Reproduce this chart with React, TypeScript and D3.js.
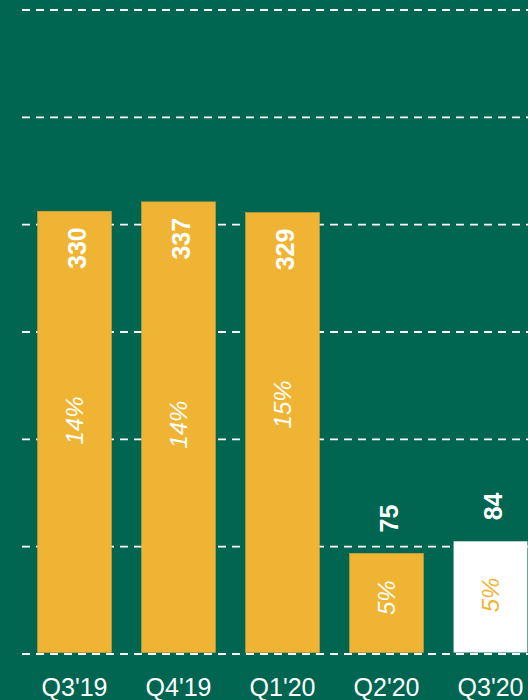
import * as d3 from "d3";
import React from "react";

// Quarterly values
const quarters = ["Q3'19", "Q4'19", "Q1'20", "Q2'20", "Q3'20"];
const values = [330, 337, 329, 75, 84];
const shares = ["14%", "14%", "15%", "5%", "5%"];
// where the share label sits inside each bar, in value units
const shareAt = [174, 171, 186, 42, 44];
const gridTicks = [0, 80, 160, 240, 320, 400, 480];

const W = 528;
const H = 700;
const GREEN = "#006651";
const GOLD = "#F0B434";

const App = () => {
  const x = d3.scaleBand<string>().domain(quarters).range([22.5, 542.5]).paddingInner(0.29).paddingOuter(0.145);
  const y = d3.scaleLinear().domain([0, 480]).range([654, 10]);
  const font = "'Liberation Sans', Arial, sans-serif";
  const last = quarters.length - 1;

  return (
    <div style={{ position: "fixed", left: 0, top: 0 }}>
      <svg width={W} height={H} style={{ display: "block" }}>
        <rect width={W} height={H} fill={GREEN} />
        {/* dashed grid behind the bars */}
        {gridTicks.filter((t) => t > 0).map((t) => (
          <line key={t} x1={22} x2={W} y1={y(t)} y2={y(t)} stroke="#fff" strokeWidth={1.8} strokeDasharray="8,6" />
        ))}
        {quarters.map((q, i) => {
          const bx = x(q) ?? 0;
          const bw = x.bandwidth();
          const cx = bx + bw / 2;
          const top = y(values[i]);
          const isLast = i === last;
          const valueInside = values[i] > 150;
          const vy = valueInside ? top + 16 : top - 21;
          const sy = y(shareAt[i]);
          return (
            <g key={q}>
              <rect
                x={bx}
                y={top}
                width={bw}
                height={y(0) - 1.5 - top}
                fill={isLast ? "#fff" : GOLD}
                stroke={isLast ? "none" : "#D9A236"}
                strokeWidth={0.6}
              />
              <text
                transform={`translate(${cx + 2},${vy}) rotate(-90)`}
                textAnchor={valueInside ? "end" : "start"}
                dy="0.36em"
                fill="#fff"
                fontFamily={font}
                fontWeight="bold"
                fontSize={25}
              >
                {values[i]}
              </text>
              <text
                transform={`translate(${cx},${sy}) rotate(-90)`}
                textAnchor="middle"
                dy="0.36em"
                fill={isLast ? GOLD : "#fff"}
                fontFamily={font}
                fontStyle="italic"
                fontSize={24}
              >
                {shares[i]}
              </text>
              <text x={cx} y={696} textAnchor="middle" fill="#fff" fontFamily={font} fontSize={25}>
                {q}
              </text>
            </g>
          );
        })}
        <line x1={22} x2={W} y1={y(0)} y2={y(0)} stroke="#fff" strokeWidth={1.8} strokeDasharray="8,6" />
      </svg>
    </div>
  );
};

export default App;
